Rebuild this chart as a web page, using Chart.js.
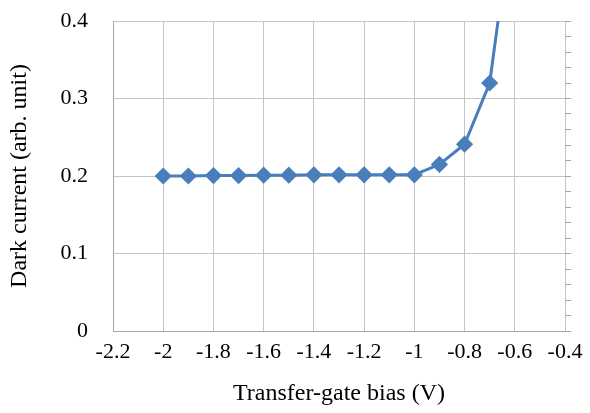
<!DOCTYPE html>
<html>
<head>
<meta charset="utf-8">
<script src="https://cdn.jsdelivr.net/npm/chart.js@4.4.0/dist/chart.umd.min.js"></script>
<style>
	html, body { margin: 0; padding: 0; background: #fff; }
	#wrap { width: 590px; height: 413px; }
</style>
</head>
<body>
<div id="wrap"><canvas id="biasChart" width="590" height="413"></canvas></div>
<script>
'use strict';

// 데이터
const biasValues = [-2, -1.9, -1.8, -1.7, -1.6, -1.5, -1.4, -1.3, -1.2, -1.1, -1, -0.9, -0.8, -0.7, -0.6];
const darkCurrent = [0.2, 0.2, 0.2005, 0.2005, 0.201, 0.201, 0.2015, 0.2015, 0.2015, 0.2015, 0.2015, 0.215, 0.241, 0.32, 0.56];
const xTicks = [-2.2, -2, -1.8, -1.6, -1.4, -1.2, -1, -0.8, -0.6, -0.4];
const yTicks = [0, 0.1, 0.2, 0.3, 0.4];

const lineColor = '#4a7ebb';
const gridColor = '#c4c4c4';
const serif = '"Liberation Serif", "Times New Roman", serif';

Chart.defaults.font.family = serif;
Chart.defaults.color = '#000';

const points = biasValues.map((x, i) => ({ x: x, y: darkCurrent[i] }));

new Chart(document.getElementById('biasChart'), {
	type: 'scatter',
	data: {
		datasets: [{
			label: 'Dark current',
			data: points,
			showLine: true,
			borderColor: lineColor,
			backgroundColor: lineColor,
			borderWidth: 3,
			pointStyle: 'rectRot',
			pointRadius: 6.5,
			pointHoverRadius: 6.5,
			clip: 0
		}]
	},
	options: {
		responsive: false,
		animation: false,
		layout: { padding: { top: 21, right: 0, left: 0, bottom: 0 } },
		plugins: {
			legend: { display: false },
			tooltip: { enabled: false }
		},
		scales: {
			x: {
				type: 'linear',
				min: -2.2,
				max: -0.4,
				afterBuildTicks: s => { s.ticks = xTicks.map(v => ({ value: v })); },
				afterFit: s => { s.height = 82; s.paddingLeft = 0; s.paddingRight = 0; },
				ticks: {
					font: { size: 22 },
					padding: 8,
					callback: v => String(Math.round(v * 10) / 10)
				},
				grid: { color: gridColor, drawTicks: false },
				border: { color: '#a6a6a6' },
				title: {
					display: true,
					text: 'Transfer-gate bias (V)',
					font: { size: 24 },
					padding: { top: 4, bottom: 5 }
				}
			},
			y: {
				min: 0,
				max: 0.4,
				afterBuildTicks: s => { s.ticks = yTicks.map(v => ({ value: v })); },
				afterFit: s => { s.width = 113; s.paddingTop = 0; s.paddingBottom = 0; },
				ticks: {
					font: { size: 22 },
					padding: 25,
					callback: v => String(Math.round(v * 10) / 10)
				},
				grid: { color: gridColor, drawTicks: false },
				border: { color: '#a6a6a6' },
				title: {
					display: true,
					text: 'Dark current (arb. unit)',
					font: { size: 24 },
					padding: { top: 5, bottom: 0 }
				}
			},
			y2: {
				position: 'right',
				min: 0,
				max: 0.4,
				afterFit: s => { s.width = 25; s.paddingTop = 0; s.paddingBottom = 0; },
				ticks: { display: false, stepSize: 0.02 },
				grid: { drawOnChartArea: false, drawTicks: true, tickLength: 6, color: '#a6a6a6' },
				border: { display: false }
			}
		}
	}
});
</script>
</body>
</html>
